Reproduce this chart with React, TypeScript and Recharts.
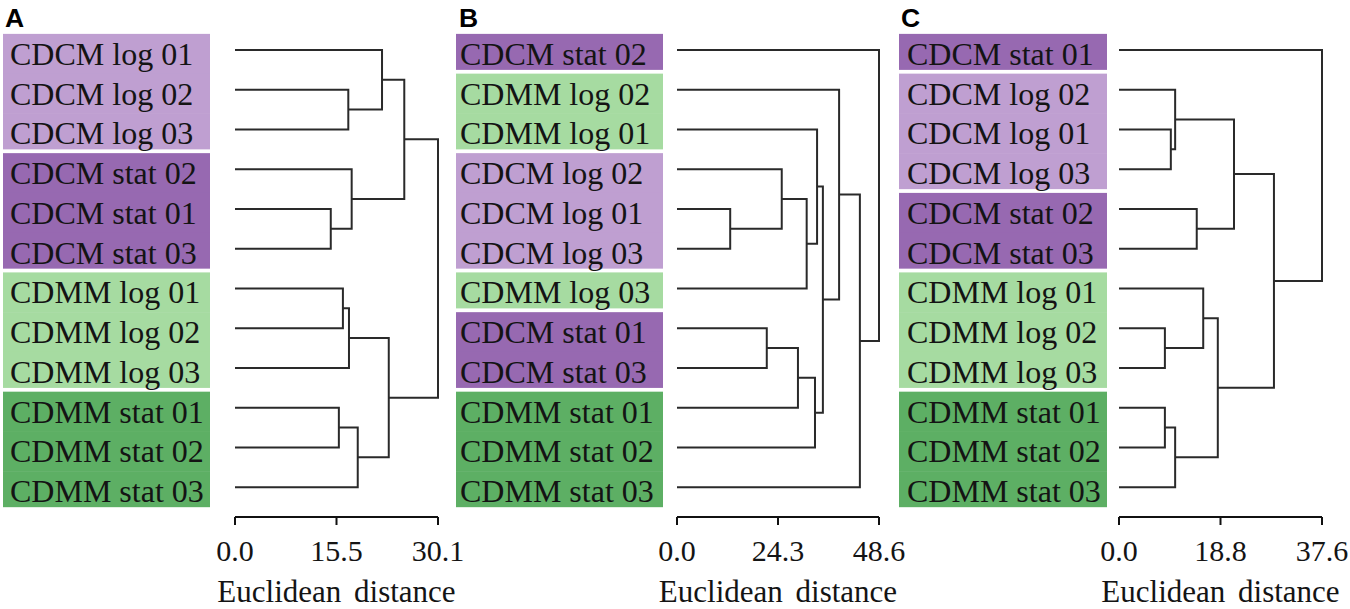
import React from 'react';
import { LineChart, Line, XAxis, YAxis } from 'recharts';

// ---------- data ----------
const LEAVES_A = [
  'CDCM log 01', 'CDCM log 02', 'CDCM log 03',
  'CDCM stat 02', 'CDCM stat 01', 'CDCM stat 03',
  'CDMM log 01', 'CDMM log 02', 'CDMM log 03',
  'CDMM stat 01', 'CDMM stat 02', 'CDMM stat 03',
];
// hclust-style merge table: negative = leaf (1-based row), positive = earlier merge (1-based)
const MERGES_A: [number, number][] = [
  [-5, -6], [-10, -11], [-7, -8], [-2, -3], [3, -9], [-4, 1],
  [2, -12], [-1, 4], [5, 7], [8, 6], [10, 9],
];
const HEIGHTS_A = [14.2, 15.4, 16.0, 16.8, 16.9, 17.3, 18.2, 21.8, 22.8, 25.1, 30.1];
const TICKS_A = [0, 15.05, 30.1];
const TICK_LABELS_A = ['0.0', '15.5', '30.1'];

const LEAVES_B = [
  'CDCM stat 02', 'CDMM log 02', 'CDMM log 01',
  'CDCM log 02', 'CDCM log 01', 'CDCM log 03',
  'CDMM log 03', 'CDCM stat 01', 'CDCM stat 03',
  'CDMM stat 01', 'CDMM stat 02', 'CDMM stat 03',
];
const MERGES_B: [number, number][] = [
  [-5, -6], [-8, -9], [-4, 1], [2, -10], [3, -7], [4, -11],
  [-3, 5], [7, 6], [-2, 8], [9, -12], [-1, 10],
];
const HEIGHTS_B = [12.8, 21.6, 25.2, 29.1, 31.2, 33.2, 33.7, 35.1, 39.0, 44.0, 48.6];
const TICKS_B = [0, 24.3, 48.6];
const TICK_LABELS_B = ['0.0', '24.3', '48.6'];

const LEAVES_C = [
  'CDCM stat 01', 'CDCM log 02', 'CDCM log 01',
  'CDCM log 03', 'CDCM stat 02', 'CDCM stat 03',
  'CDMM log 01', 'CDMM log 02', 'CDMM log 03',
  'CDMM stat 01', 'CDMM stat 02', 'CDMM stat 03',
];
const MERGES_C: [number, number][] = [
  [-8, -9], [-10, -11], [-3, -4], [-2, 3], [2, -12], [-5, -6],
  [-7, 1], [7, 5], [4, 6], [9, 8], [-1, 10],
];
const HEIGHTS_C = [8.5, 8.5, 9.6, 10.4, 10.4, 14.4, 15.6, 18.3, 21.3, 28.7, 37.6];
const TICKS_C = [0, 18.8, 37.6];
const TICK_LABELS_C = ['0.0', '18.8', '37.6'];

const PANEL_LETTERS = ['A', 'B', 'C'];

const GROUP_COLORS: Record<string, string> = {
  'CDCM log': '#bf9fd1',
  'CDCM stat': '#9769b1',
  'CDMM log': '#a6dba1',
  'CDMM stat': '#5daf64',
};

// ---------- layout / style ----------
const SERIF = "'Liberation Serif', 'Times New Roman', Times, serif";
const SANS = "'Liberation Sans', Arial, Helvetica, sans-serif";
const LINE_COLOR = '#2a2a2a';

const PANELS = [
  { leaves: LEAVES_A, merges: MERGES_A, heights: HEIGHTS_A, ticks: TICKS_A, tickLabels: TICK_LABELS_A,
    left: 0, width: 470, yWidth: 235, right: 32, boxL: 3, boxR: 210, textL: 10 },
  { leaves: LEAVES_B, merges: MERGES_B, heights: HEIGHTS_B, ticks: TICKS_B, tickLabels: TICK_LABELS_B,
    left: 440, width: 470, yWidth: 237, right: 31, boxL: 16, boxR: 223, textL: 20 },
  { leaves: LEAVES_C, merges: MERGES_C, heights: HEIGHTS_C, ticks: TICKS_C, tickLabels: TICK_LABELS_C,
    left: 880, width: 470, yWidth: 239, right: 28, boxL: 19, boxR: 227, textL: 27 },
];
const LETTER_POS = [[5, 27], [459, 27], [901, 27]];

const groupOf = (s: string) => s.slice(0, s.lastIndexOf(' '));

type Pt = { x: number; y: number };
function buildSegments(merges: [number, number][], heights: number[]): Pt[][] {
  const nodeY: number[] = [];
  const pos = (c: number): Pt => (c < 0 ? { x: 0, y: -c - 1 } : { x: heights[c - 1], y: nodeY[c - 1] });
  return merges.map(([a, b], k) => {
    const pa = pos(a);
    const pb = pos(b);
    const h = heights[k];
    nodeY[k] = (pa.y + pb.y) / 2;
    return [
      { x: pa.x, y: pa.y },
      { x: h, y: pa.y },
      { x: h, y: pb.y },
      { x: pb.x, y: pb.y },
    ];
  });
}

function Panel({ cfg }: { cfg: (typeof PANELS)[number] }) {
  const segs = buildSegments(cfg.merges, cfg.heights);
  const n = cfg.leaves.length;
  const rowTicks = cfg.leaves.map((_, i) => i);
  const max = cfg.ticks[cfg.ticks.length - 1];

  const LabelTick = (props: any) => {
    const { y, payload } = props;
    const i = payload.value as number;
    const label = cfg.leaves[i];
    const g = groupOf(label);
    const isLast = i === n - 1 || groupOf(cfg.leaves[i + 1]) !== g;
    const step = 39.76;
    const top = y - 16;
    const bottom = isLast ? y + 20 : y - 16 + step + 0.5;
    return (
      <g>
        <rect x={cfg.boxL} y={top} width={cfg.boxR - cfg.boxL} height={bottom - top} fill={GROUP_COLORS[g]} />
        <text x={cfg.textL} y={y + 15} fontSize={32} fontFamily={SERIF} fill="#141414">
          {label}
        </text>
      </g>
    );
  };

  return (
    <div style={{ position: 'absolute', left: cfg.left, top: 0 }}>
      <LineChart width={cfg.width} height={609} margin={{ top: 30, right: cfg.right, bottom: 0, left: 0 }}>
        <XAxis
          type="number"
          dataKey="x"
          domain={[0, max]}
          ticks={cfg.ticks}
          interval={0}
          tickFormatter={(v: number) => cfg.tickLabels[cfg.ticks.indexOf(v)] ?? String(v)}
          height={92}
          tickSize={8}
          tickMargin={15}
          axisLine={{ stroke: '#111', strokeWidth: 2 }}
          tickLine={{ stroke: '#111', strokeWidth: 2 }}
          tick={{ fontSize: 30, fontFamily: SERIF, fill: '#141414' }}
          label={{
            value: 'Euclidean distance',
            position: 'insideBottom',
            offset: 7,
            fontSize: 31,
            fontFamily: SERIF,
            fill: '#141414',
            style: { wordSpacing: '5px' },
          }}
        />
        <YAxis
          type="number"
          domain={[-0.5, 11.75]}
          reversed
          ticks={rowTicks}
          interval={0}
          width={cfg.yWidth}
          axisLine={false}
          tickLine={false}
          tick={LabelTick}
        />
        {segs.map((d, k) => (
          <Line
            key={k}
            data={d}
            dataKey="y"
            type="linear"
            stroke={LINE_COLOR}
            strokeWidth={2}
            dot={false}
            activeDot={false}
            isAnimationActive={false}
          />
        ))}
      </LineChart>
    </div>
  );
}

export default function App() {
  return (
    <div style={{ position: 'absolute', left: 0, top: 0, width: 1350, height: 609, background: '#fff', overflow: 'hidden' }}>
      {PANELS.map((p, i) => (
        <Panel key={i} cfg={p} />
      ))}
      <svg width={1350} height={609} style={{ position: 'absolute', left: 0, top: 0, pointerEvents: 'none' }}>
        {PANEL_LETTERS.map((L, i) => (
          <text key={L} x={LETTER_POS[i][0]} y={LETTER_POS[i][1]} fontSize={26.5} fontWeight="bold" fontFamily={SANS} fill="#000">
            {L}
          </text>
        ))}
      </svg>
    </div>
  );
}
